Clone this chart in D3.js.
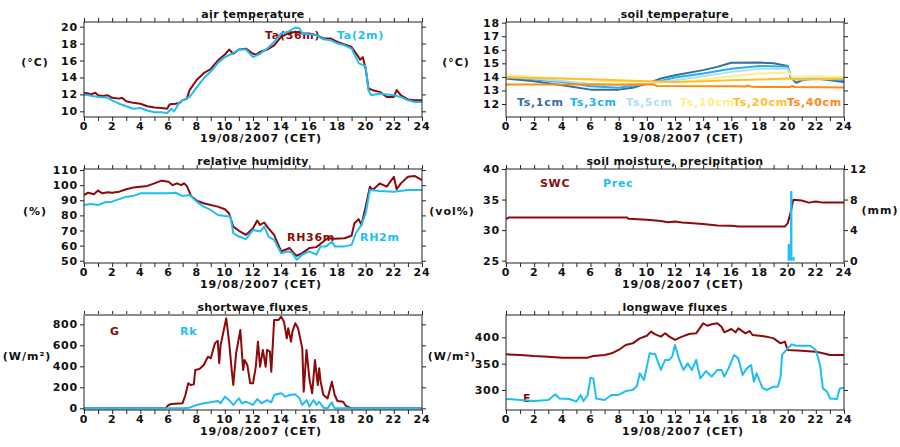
<!DOCTYPE html>
<html><head><meta charset="utf-8">
<script src="https://cdn.jsdelivr.net/npm/d3@7"></script>
<style>
body{margin:0;background:#fff}
svg{display:block}
text{font-family:"DejaVu Sans",Verdana,sans-serif}
</style>
</head><body><svg id="c" width="900" height="447"></svg>
<script>
// ---------------- DATA ----------------
const hourTicks = d3.range(0, 25, 2);
const hourMinor = d3.range(0, 25, 1);
const xAxisTitle = "19/08/2007 (CET)";
const titles = ["air temperature","soil temperature","relative humidity","soil moisture, precipitation","shortwave fluxes","longwave fluxes"];

// air temperature [hour, °C]
const ta36 = [[0,12.2],[0.3,12.1],[0.5,12.0],[0.8,12.2],[1,11.9],[1.3,11.8],[1.7,11.9],[2,11.6],[2.5,11.5],[2.7,11.6],[3,11.2],[3.5,11.0],[4,10.9],[4.5,10.6],[5,10.45],[5.5,10.4],[5.9,10.3],[6.1,10.85],[6.5,10.9],[6.8,11.0],[7,11.3],[7.3,11.5],[7.5,12.5],[8,13.7],[8.5,14.5],[9,15.0],[9.5,16.0],[10,16.7],[10.3,17.3],[10.6,16.8],[11,17.3],[11.5,17.4],[12,16.8],[12.2,16.7],[12.5,17.0],[13,17.3],[13.5,17.8],[14,18.8],[14.5,19.2],[15,19.4],[15.5,19.2],[16,19.2],[16.5,19.0],[17,18.6],[17.5,18.6],[18,18.2],[18.5,17.9],[19,17.6],[19.5,16.4],[19.6,16.1],[19.8,16.4],[20,15.0],[20.2,12.7],[20.5,12.5],[21,12.3],[21.5,11.7],[22,11.7],[22.2,12.5],[22.5,11.9],[23,11.4],[23.5,11.3],[24,11.3]];
const ta2 = [[0,12.0],[1,11.7],[1.7,11.6],[2,11.3],[2.5,10.9],[3,10.6],[3.5,10.3],[4,10.4],[4.5,10.1],[5,9.9],[5.5,9.9],[5.9,9.8],[6.2,10.3],[6.4,10.0],[6.8,11.1],[7,11.3],[7.5,11.7],[8,12.8],[8.5,13.9],[9,14.7],[9.5,15.7],[10,16.4],[10.5,16.8],[11,17.3],[11.5,17.3],[12,16.4],[12.5,16.8],[13,17.4],[13.5,18.2],[14,19.2],[14.5,19.4],[15,19.9],[15.3,19.8],[15.5,19.2],[16,19.1],[16.5,19.0],[17,18.5],[17.5,18.4],[18,18.0],[18.5,17.8],[19,17.4],[19.5,15.7],[20,15.3],[20.2,12.5],[20.4,11.9],[21,12.1],[21.5,12.0],[22,11.9],[22.5,11.7],[23,11.3],[23.5,11.1],[24,11.1]];

// soil temperature [hour, °C]
const ts1 = [[0,13.88],[2,13.68],[4,13.38],[6,13.06],[8,13.06],[9,13.2],[10,13.5],[11,13.88],[12,14.12],[14,14.5],[15,14.74],[16,15.04],[18,15.06],[19,15.0],[20,14.8],[20.2,14.0],[20.6,13.56],[21,13.75],[22,13.88],[23,13.75],[24,13.63]];
const ts3 = [[0,14.0],[2,13.8],[4,13.63],[6,13.3],[8,13.2],[10,13.5],[11,13.7],[12,13.95],[14,14.25],[16,14.6],[18,14.8],[20,14.74],[20.3,13.88],[21,13.8],[22,13.88],[24,13.75]];
const ts5 = [[0,14.05],[4,13.7],[6,13.5],[8,13.38],[10,13.5],[12,13.75],[14,14.05],[16,14.37],[18,14.6],[20,14.6],[20.3,13.95],[22,13.95],[24,13.88]];
const ts10 = [[0,14.12],[4,13.88],[8,13.63],[10,13.63],[12,13.63],[14,13.8],[16,14.05],[18,14.25],[20,14.32],[20.4,14.0],[22,14.05],[24,14.0]];
const ts20 = [[0,13.95],[4,13.88],[6,13.83],[8,13.75],[10,13.68],[12,13.63],[14,13.68],[16,13.75],[18,13.8],[20,13.88],[20.5,13.8],[22,13.8],[24,13.88]];
const ts40 = [[0,13.43],[4,13.43],[8,13.43],[10.5,13.43],[10.7,13.33],[16,13.31],[17,13.29],[17.2,13.36],[17.4,13.28],[18,13.26],[20.2,13.26],[20.3,13.33],[20.5,13.25],[24,13.21]];
const soilNames = ["Ts,1cm","Ts,3cm","Ts,5cm","Ts,10cm","Ts,20cm","Ts,40cm"];

// relative humidity [hour, %]
const rh36 = [[0,93.5],[0.3,95],[0.7,94],[1,96.4],[1.3,94.6],[1.7,95.3],[2,95],[2.5,95.7],[3,97.3],[3.5,98.4],[4,99],[4.5,99.5],[5,101.2],[5.5,103],[6,102.3],[6.3,100],[6.6,101.2],[6.9,100],[7.1,101.2],[7.3,99.5],[7.6,92.9],[8,89.8],[8.5,88],[9,86.9],[9.5,85.8],[10,84.1],[10.3,81.4],[10.6,72.6],[11,69.8],[11.5,67.1],[12,71.5],[12.3,76.6],[12.5,73.7],[12.8,75.3],[13,72.6],[13.5,67.1],[13.7,62.7],[14,56.2],[14.3,57.3],[14.6,58.4],[14.9,55],[15.1,53.3],[15.5,55],[16,58.4],[16.5,59],[17,62.7],[17.3,64.9],[17.8,64.5],[18.5,64.9],[19,66.5],[19.2,74.8],[19.5,77.5],[19.7,73.7],[20,85.8],[20.3,99],[20.5,96.8],[21,101.2],[21.5,99],[22,105.6],[22.2,97.3],[22.5,101.2],[23,105.6],[23.5,106],[24,103.4]];
const rh2 = [[0,86.9],[0.5,87.6],[1,86.9],[1.5,88.7],[2,89.1],[3,92.4],[3.5,92.9],[4,94.6],[5,94.6],[5.5,94.6],[6,94.6],[6.5,95],[7,92.9],[7.5,93.5],[8,89.1],[8.5,85.8],[9,83.6],[9.5,80.3],[10,79.6],[10.4,79.2],[10.6,68.2],[11,66],[11.5,64.3],[12,70.4],[12.5,69.3],[12.8,72.6],[13.1,66],[13.5,63.8],[14,55],[14.5,56.2],[14.8,55],[15.1,50.7],[15.5,54],[16,56.2],[16.5,54],[16.8,59.5],[17.2,59.5],[17.6,62.7],[17.8,59.5],[18.5,59.5],[19,60.5],[19.3,68.2],[19.7,73.7],[20,81.4],[20.3,96.8],[21,96.2],[22,95.7],[23,96.8],[24,96.8]];

// soil moisture [hour, vol%] and precipitation [hour, mm]
const swc = [[0,31.8],[0.2,32.07],[8.6,32.07],[8.7,31.85],[10,31.7],[11,31.5],[11.5,31.3],[12,31.4],[12.5,31.25],[13.5,31.1],[14,31.0],[15,30.76],[16,30.7],[16.5,30.6],[19.8,30.6],[20,31.1],[20.2,32.8],[20.4,34.95],[21,34.84],[21.5,34.5],[22,34.67],[22.5,34.5],[24,34.5]];
const prec = [[20.0,2.2],[20.17,9.1],[20.33,0.5]];

// shortwave [hour, W/m²]
const swG = [[0,0],[5.8,0],[6.0,32],[6.2,41],[7.0,48],[7.2,127],[7.4,238],[7.6,222],[7.8,228],[7.9,365],[8.2,375],[8.5,413],[8.8,492],[9.0,476],[9.3,619],[9.5,644],[9.6,429],[9.7,603],[9.9,730],[10.1,857],[10.3,635],[10.5,349],[10.6,222],[10.8,524],[11.1,746],[11.3,365],[11.4,460],[11.6,413],[11.8,238],[12.0,238],[12.2,397],[12.35,635],[12.5,397],[12.7,556],[12.9,397],[13.0,556],[13.2,540],[13.3,349],[13.5,841],[13.8,841],[14.0,873],[14.2,825],[14.4,667],[14.5,762],[14.7,635],[14.8,730],[15.0,810],[15.2,762],[15.5,571],[15.6,159],[15.8,556],[16.0,286],[16.2,143],[16.4,460],[16.6,222],[16.7,381],[16.8,254],[17.0,127],[17.3,95],[17.6,254],[17.8,127],[18.0,70],[18.4,63],[18.6,22],[19.0,0],[24,0]];
const swRk = [[0,0],[7.0,0],[7.5,6],[8,32],[8.5,48],[9,57],[9.5,70],[9.7,48],[10.0,111],[10.3,79],[10.6,32],[11,95],[11.2,48],[11.5,63],[12,32],[12.3,89],[12.6,48],[13,79],[13.3,57],[13.5,127],[14,143],[14.3,111],[14.6,127],[15,133],[15.3,95],[15.5,32],[15.8,79],[16,16],[16.3,79],[16.5,32],[16.7,63],[17,6],[17.3,0],[17.6,57],[17.8,0],[24,0]];

// longwave [hour, W/m²]
const lwA = [[0,367.7],[1,366.5],[2,364.6],[3,363.3],[4,361.4],[5,361.4],[5.8,361.4],[6.2,364.6],[7,366.5],[7.5,369.6],[8,376],[8.5,385.4],[9,388.6],[9.5,398],[10,403],[10.3,410.8],[10.6,405.7],[11,401.3],[11.3,407.6],[11.6,401.3],[12,395],[12.5,401.3],[13,406.3],[13.5,407.6],[14,426.6],[14.3,422],[14.6,424.7],[15,426.6],[15.3,420],[15.5,409.5],[16,415.8],[16.3,409.5],[16.5,417],[17,407.6],[17.3,412],[17.5,404.4],[18,403.2],[18.5,401.3],[19,398],[19.5,388.6],[19.8,391.8],[20,376],[21,374.7],[22,372.8],[22.5,369.6],[23,366.5],[24,366.5]];
const lwE = [[0,283],[1,281],[2,279],[3,281],[3.5,291.8],[3.8,284],[4.5,283],[5,278],[5.3,290.5],[5.5,279],[5.8,290.5],[6.0,323.4],[6.2,322],[6.4,284],[7,281],[7.5,290.5],[8,290.5],[8.5,298],[9,300],[9.3,308],[9.5,331.6],[9.8,319],[10.2,369.6],[10.6,367.7],[11,338],[11.3,357],[11.6,357],[11.8,363.3],[12.0,385.4],[12.3,357],[12.6,338],[12.9,350.6],[13.2,338],[13.5,357],[13.8,322],[14.2,336],[14.6,325.3],[15,338],[15.3,338],[15.5,325.3],[15.8,341],[16.2,366.5],[16.5,360],[16.8,328.5],[17.1,341],[17.4,347.5],[17.6,316],[17.8,331.6],[18.2,304.4],[18.5,300],[19,306.3],[19.3,306.3],[19.5,325.3],[19.6,366.5],[20.0,379],[20.3,386.7],[20.6,384],[21.6,384],[22,376],[22.3,347.5],[22.5,303],[22.8,296.8],[23,284],[23.5,283],[23.7,303],[24,304.4]];

// ---------------- STYLE / LAYOUT ----------------
const RED = "#8c0a0a", SKY = "#1ebef5";
const soilColors = ["#3a6c9c","#20b2f0","#b2dcf8","#fff08a","#ffc02a","#ff8a12"];
const svg = d3.select("#c");
const W = 338;

function panel(o) {
  const g = svg.append("g");
  const x = d3.scaleLinear().domain([0, 24]).range([o.left, o.left + W]);
  const y = d3.scaleLinear().domain(o.ydom).range([o.top + o.h, o.top]);
  const bottom = o.top + o.h, right = o.left + W;
  const clipId = "clip" + o.id;
  svg.append("clipPath").attr("id", clipId).append("rect")
    .attr("x", o.left).attr("y", o.top).attr("width", W).attr("height", o.h);

  // title
  g.append("text").attr("x", o.left + W / 2).attr("y", o.top - 8)
    .attr("text-anchor", "middle").attr("dominant-baseline", "central")
    .style("font-size", "11px").style("font-weight", "bold").style("letter-spacing", "0.3px")
    .attr("fill", "#111").text(o.title);

  // axes via d3
  const bAxis = d3.axisBottom(x).tickValues(hourMinor).tickSize(4).tickFormat("");
  const tAxis = d3.axisTop(x).tickValues(hourMinor).tickSize(4).tickFormat("");
  const lAxis = d3.axisLeft(y).tickValues(o.yticks).tickSize(4).tickFormat(d3.format("d"));
  const rAxis = d3.axisRight(o.y2 ? d3.scaleLinear().domain(o.y2.dom).range([bottom, o.top]) : y)
      .tickValues(o.y2 ? o.y2.ticks : o.yticks).tickSize(4).tickFormat(o.y2 ? d3.format("d") : "");
  const axG = [
    g.append("g").attr("transform", `translate(0,${bottom})`).call(bAxis),
    g.append("g").attr("transform", `translate(0,${o.top})`).call(tAxis),
    g.append("g").attr("transform", `translate(${o.left},0)`).call(lAxis),
    g.append("g").attr("transform", `translate(${right},0)`).call(rAxis)
  ];
  axG.forEach(a => {
    a.select(".domain").remove();
    a.selectAll("line").attr("stroke", "#222");
    a.selectAll("text").style("font-size", "11px").style("font-weight", "bold")
      .style("letter-spacing", "0.8px").attr("fill", "#111").attr("font-family", null);
  });
  axG[2].selectAll("text").attr("x", -6);
  axG[3].selectAll("text").attr("x", 6);

  // hour labels
  g.append("g").selectAll("text").data(hourTicks).join("text")
    .attr("x", d => x(d)).attr("y", bottom + 9).attr("text-anchor", "middle")
    .attr("dominant-baseline", "central")
    .style("font-size", "11px").style("font-weight", "bold").style("letter-spacing", "0.8px")
    .attr("fill", "#111").text(d => d);
  g.append("text").attr("x", o.left + W / 2 + 8).attr("y", bottom + 21).attr("text-anchor", "middle")
    .attr("dominant-baseline", "central")
    .style("font-size", "11px").style("font-weight", "bold").style("letter-spacing", "1px")
    .attr("fill", "#111").text(xAxisTitle);

  // units
  o.units.forEach(u => {
    g.append("text").attr("x", u[0]).attr("y", u[1]).attr("text-anchor", "middle")
      .attr("dominant-baseline", "central")
      .style("font-size", "11px").style("font-weight", "bold").style("letter-spacing", "1px")
      .attr("fill", "#111").text(u[2]);
  });

  // legend labels (drawn under lines)
  o.labels.forEach(l => {
    g.append("text").attr("x", l[0]).attr("y", l[1]).attr("dominant-baseline", "central")
      .style("font-size", "11px").style("font-weight", "bold").style("letter-spacing", "0.7px")
      .attr("fill", l[3]).text(l[2]);
  });

  const plot = g.append("g").attr("clip-path", `url(#${clipId})`);
  const line = d3.line().x(d => x(d[0])).y(d => y(d[1]));
  o.series.forEach(s => {
    plot.append("path").datum(s.data).attr("d", line).attr("fill", "none")
      .attr("stroke", s.color).attr("stroke-width", 2).attr("stroke-linejoin", "round");
  });
  (o.barsTop || []).forEach(b => {
    const y2 = d3.scaleLinear().domain(o.y2.dom).range([bottom, o.top]);
    plot.selectAll(null).data(b.data).join("rect")
      .attr("x", d => x(d[0])).attr("width", d => x(d[0] + 1 / 6) - x(d[0]))
      .attr("y", d => y2(d[1])).attr("height", d => y2(0) - y2(d[1]))
      .attr("fill", b.color);
  });

  // frame
  g.append("rect").attr("x", o.left).attr("y", o.top).attr("width", W).attr("height", o.h)
    .attr("fill", "none").attr("stroke", "#222").attr("stroke-width", 1);
  if (o.greyTop) {
    g.append("line").attr("x1", o.left).attr("x2", right).attr("y1", o.top).attr("y2", o.top)
      .attr("stroke", "#8a8a8a").attr("stroke-width", 2);
  }
}

panel({id:1, left:84, top:22, h:95, ydom:[9.33,20.55], yticks:d3.range(10,21,2), title:titles[0],
  units:[[35,62,"(°C)"]],
  labels:[[265,35,"Ta(36m)",RED],[337,35,"Ta(2m)",SKY]],
  series:[{data:ta36,color:RED},{data:ta2,color:SKY}]});

panel({id:2, left:506, top:22, h:95, ydom:[11.04,18.05], yticks:d3.range(12,19,1), title:titles[1],
  units:[[456,62,"(°C)"]],
  labels:soilNames.map((n,i)=>[[517,570,626,680,733,787][i],102,n,soilColors[i]]),
  series:[ts1,ts3,ts5,ts10,ts20,ts40].map((d,i)=>({data:d,color:soilColors[i]}))});

panel({id:3, left:84, top:169, h:94, ydom:[48.5,110.7], yticks:d3.range(50,111,10), title:titles[2],
  units:[[35,211,"(%)"]],
  labels:[[287,237,"RH36m",RED],[360,237,"RH2m",SKY]],
  series:[{data:rh36,color:RED},{data:rh2,color:SKY}]});

panel({id:4, left:506, top:169, h:94, ydom:[24.62,40], yticks:[25,30,35,40], title:titles[3],
  y2:{dom:[-0.3,12], ticks:[0,4,8,12]},
  units:[[452,211,"(vol%)"],[880,210,"(mm)"]],
  labels:[[540,183,"SWC",RED],[603,183,"Prec",SKY]],
  series:[{data:swc,color:RED}],
  barsTop:[{data:prec,color:SKY}]});

panel({id:5, left:84, top:315, h:95, ydom:[-16,889], yticks:d3.range(0,801,200), title:titles[4],
  units:[[27,356,"(W/m²)"]],
  labels:[[110,331,"G",RED],[180,331,"Rk",SKY]],
  series:[{data:swG,color:RED},{data:swRk,color:SKY}], greyTop:true});

panel({id:6, left:506, top:315, h:95, ydom:[262,442.4], yticks:[300,350,400], title:titles[5],
  units:[[452,356,"(W/m²)"]],
  labels:[[523,398,"E",RED]],
  series:[{data:lwA,color:RED},{data:lwE,color:SKY}]});
</script>
</body></html>
